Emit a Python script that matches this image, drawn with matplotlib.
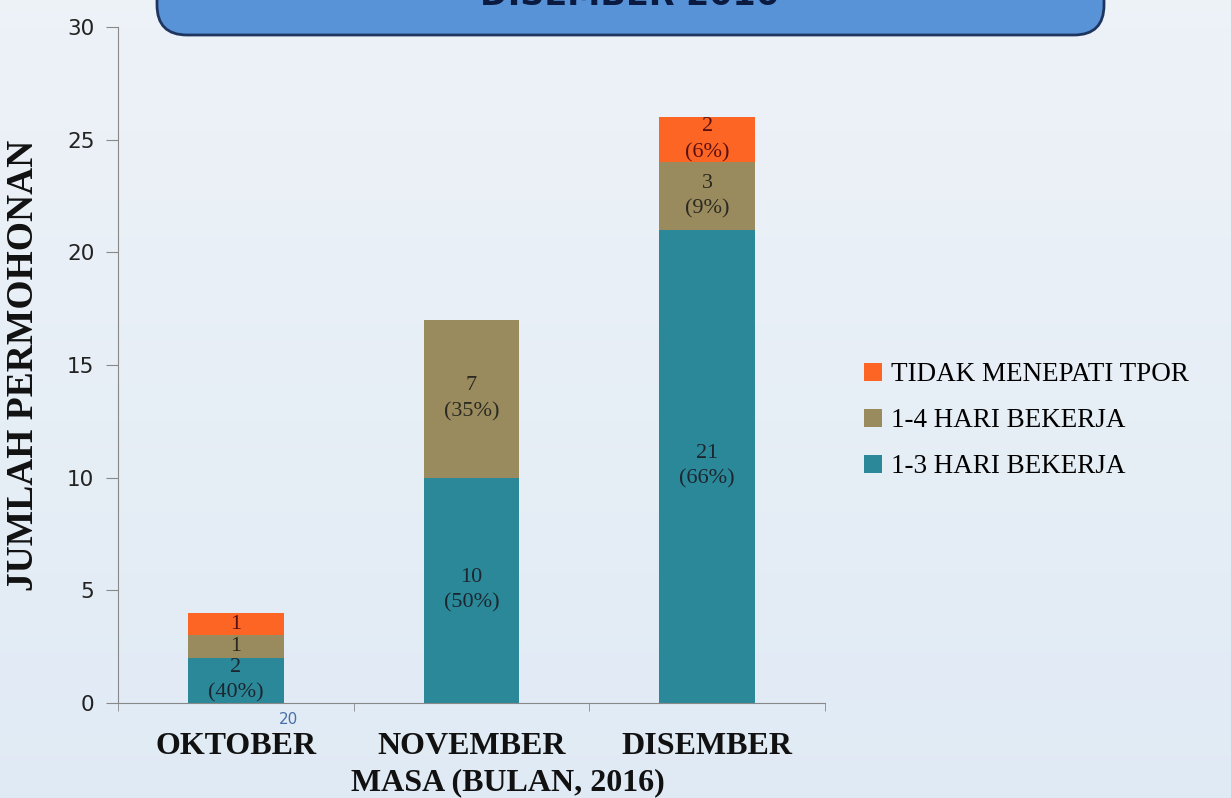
import numpy as np
import matplotlib
matplotlib.use("Agg")
import matplotlib.pyplot as plt
from matplotlib.patches import FancyBboxPatch

categories = ["OKTOBER", "NOVEMBER", "DISEMBER"]
series_names = ["1-3 HARI BEKERJA", "1-4 HARI BEKERJA", "TIDAK MENEPATI TPOR"]
vals_13 = [2, 10, 21]
vals_14 = [1, 7, 3]
vals_tpor = [1, 0, 2]
labels_13 = ["2\n(40%)", "10\n(50%)", "21\n(66%)"]
labels_14 = ["1", "7\n(35%)", "3\n(9%)"]
labels_tpor = ["1", "", "2\n(6%)"]
yticks = [0, 5, 10, 15, 20, 25, 30]
title_text = "DISEMBER 2016"
ylabel = "JUMLAH PERMOHONAN"
xlabel = "MASA (BULAN, 2016)"

colors = ["#2a8899", "#9a8b5f", "#fd6525"]

W, H = 1231, 798
fig = plt.figure(figsize=(W / 100, H / 100), dpi=100)

# background gradient
bg = fig.add_axes([0, 0, 1, 1], zorder=-10)
grad = np.linspace(0, 1, 256)
img = np.zeros((256, 2, 3))
top = np.array([0.93, 0.95, 0.97])
bot = np.array([0.88, 0.92, 0.96])
for i, g in enumerate(grad):
    img[i, :, :] = top * (1 - g) + bot * g
bg.imshow(img, aspect="auto", extent=[0, 1, 0, 1])
bg.axis("off")

# title banner (cut off at top)
ov = fig.add_axes([0, 0, 1, 1], zorder=5)
ov.set_xlim(0, W)
ov.set_ylim(H, 0)
ov.axis("off")
box = FancyBboxPatch((157, -80), 947, 115, boxstyle="round,pad=0,rounding_size=30",
                     facecolor="#5893d8", edgecolor="#1e3560", linewidth=2)
ov.add_patch(box)
ov.text(629, 5, title_text, ha="center", va="baseline", fontsize=24, fontweight="bold",
        color="#0a1a40", family="DejaVu Sans", clip_on=True)
ov.text(289, 720, "20", ha="center", va="center", fontsize=11, color="#4a6fa8",
        family="DejaVu Sans")

ax = fig.add_axes([118 / W, (H - 703) / H, 707 / W, 676 / H])
ax.patch.set_alpha(0)
x = np.arange(len(categories))
width = 0.405
b1 = ax.bar(x, vals_13, width, color=colors[0], label=series_names[0])
b2 = ax.bar(x, vals_14, width, bottom=vals_13, color=colors[1], label=series_names[1])
bottom3 = [a + b for a, b in zip(vals_13, vals_14)]
b3 = ax.bar(x, vals_tpor, width, bottom=bottom3, color=colors[2], label=series_names[2])

def put_labels(labels, bottoms, vals, tcolor):
    for xi, lab, bt, v in zip(x, labels, bottoms, vals):
        if lab:
            ax.text(xi, bt + v / 2, lab, ha="center", va="center", fontsize=16,
                    family="Liberation Serif", color=tcolor, linespacing=1.45)

put_labels(labels_13, [0, 0, 0], vals_13, "#1c2630")
put_labels(labels_14, vals_13, vals_14, "#2a2a20")
put_labels(labels_tpor, bottom3, vals_tpor, "#5a1010")

ax.set_xlim(-0.5, 2.5)
ax.set_ylim(0, 30)
ax.set_yticks(yticks)
ax.set_yticklabels([str(t) for t in yticks], fontsize=15.5, family="DejaVu Sans", color="#222222")
ax.set_xticks(x)
ax.set_xticklabels(categories, fontsize=23, fontweight="bold", family="Liberation Serif",
                   color="#111111")
ax.set_xticks([-0.5, 0.5, 1.5, 2.5], minor=True)
ax.tick_params(axis="x", which="major", length=0, pad=21)
ax.tick_params(axis="x", which="minor", length=6, color="#888888", direction="out")
ax.tick_params(axis="y", length=9, color="#888888", direction="out", pad=8)
for s in ["top", "right"]:
    ax.spines[s].set_visible(False)
ax.spines["left"].set_color("#888888")
ax.spines["bottom"].set_color("#888888")
ax.set_ylabel(ylabel, fontsize=27, fontweight="bold", family="Liberation Serif", color="#111111")
ax.yaxis.set_label_coords((41 - 118) / 707, 0.5)
ax.set_xlabel(xlabel, fontsize=23, fontweight="bold", family="Liberation Serif", color="#111111")
ax.xaxis.set_label_coords((508 - 118) / 707, (703 - 768) / 676)

h, l = ax.get_legend_handles_labels()
fig.legend(h[::-1], l[::-1], loc="upper left", bbox_to_anchor=(840 / W, 1 - 338 / H),
           frameon=False, prop={"family": "Liberation Serif", "size": 19.5},
           handlelength=0.65, handleheight=0.65, handletextpad=0.35, labelspacing=0.77)

fig.savefig("out.png", dpi=100)
